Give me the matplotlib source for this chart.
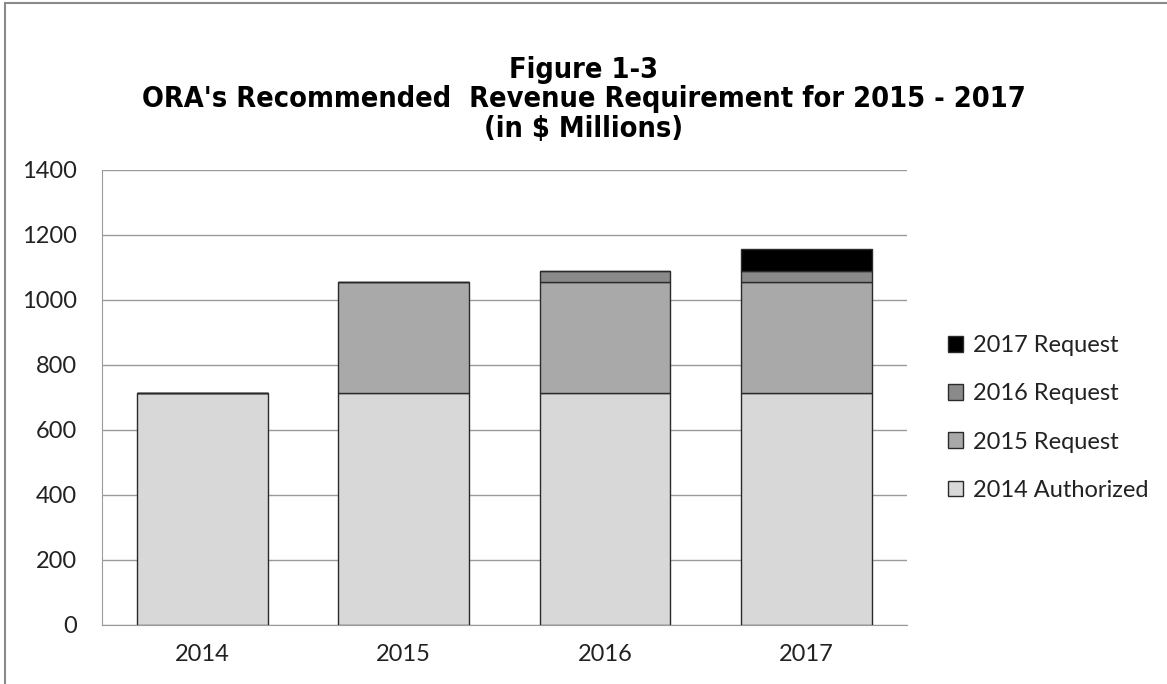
import matplotlib.pyplot as plt
import numpy as np
from matplotlib.patches import Rectangle

years = ["2014", "2015", "2016", "2017"]
authorized_2014 = [715, 715, 715, 715]
request_2015 = [0, 339, 339, 339]
request_2016 = [0, 0, 35, 35]
request_2017 = [0, 0, 0, 67]

series = [
    ("2014 Authorized", authorized_2014, "#d8d8d8"),
    ("2015 Request", request_2015, "#a9a9a9"),
    ("2016 Request", request_2016, "#8a8a8a"),
    ("2017 Request", request_2017, "#000000"),
]

plt.rcParams['font.family'] = ['Lato', 'DejaVu Sans']

fig = plt.figure(figsize=(11.67, 6.84), dpi=100)
ax = fig.add_axes([0.0874, 0.0863, 0.6896, 0.6652])

x = np.arange(len(years))
bottom = np.zeros(len(years))
handles = []
for name, vals, color in series:
    vals = np.array(vals, dtype=float)
    h = ax.bar(x, vals, bottom=bottom, width=0.65, color=color,
               edgecolor="#2a2a2a", linewidth=1.0, label=name, zorder=3)
    handles.append(h)
    bottom += vals

ax.set_xlim(-0.5, len(years) - 0.5)
ax.set_ylim(0, 1400)
ax.set_yticks(np.arange(0, 1401, 200))
ax.set_xticks(x)
ax.set_xticklabels(years)
ax.tick_params(axis="both", length=0, labelsize=17, colors="#222222")
ax.tick_params(axis="y", pad=18)
ax.tick_params(axis="x", pad=14)
ax.grid(axis="y", color="#9a9a9a", linewidth=1.0, zorder=0)
for side in ["top", "right"]:
    ax.spines[side].set_visible(False)
ax.spines["left"].set_color("#9a9a9a")
ax.spines["bottom"].set_color("#9a9a9a")

ax.legend(handles[::-1], [s[0] for s in series][::-1], loc="center left",
          bbox_to_anchor=(1.025, 0.455), frameon=False, fontsize=17,
          handlelength=0.65, handleheight=0.65, handletextpad=0.4,
          labelspacing=1.15, labelcolor="#222222")

fig.text(0.5, 0.855, "Figure 1-3\nORA's Recommended  Revenue Requirement for 2015 - 2017\n(in $ Millions)",
         ha="center", va="center", fontsize=20.7, fontweight="bold",
         family="DejaVu Sans", fontstretch="condensed",
         linespacing=1.06)

fig.patches.append(Rectangle((0.004, -0.01), 1.0, 1.005, transform=fig.transFigure,
                             fill=False, edgecolor="#8a8a8a", linewidth=1.5))

fig.savefig("out.png", dpi=100)
